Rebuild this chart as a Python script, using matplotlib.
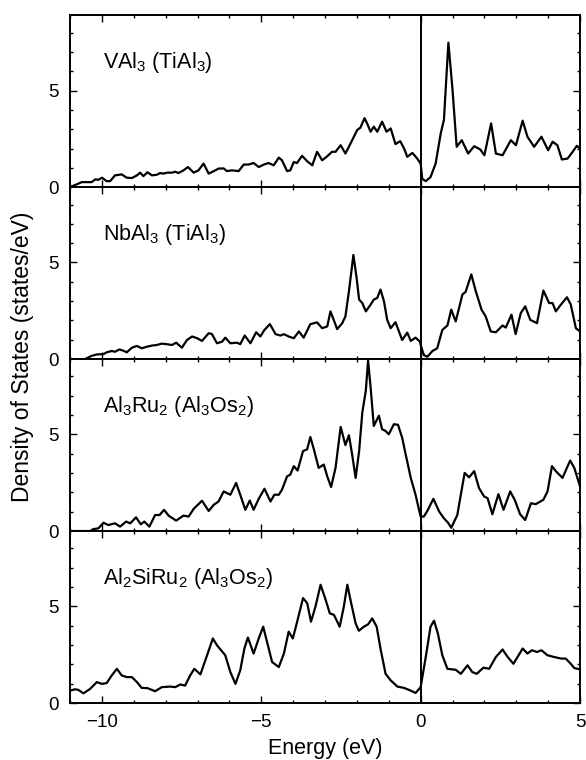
import numpy as np
import matplotlib as mpl
mpl.use('Agg')
from matplotlib import pyplot as plt
from matplotlib.ticker import MultipleLocator

plt.rcParams['font.family'] = ['Liberation Sans', 'DejaVu Sans']
plt.rcParams['mathtext.default'] = 'regular'

## ------------------------------------------------------------------
##  Data (energy in eV, DOS in states/eV)
## ------------------------------------------------------------------
val3_e = [-11, -10.63, -10.32, -10.21, -10.11, -10.0, -9.85, -9.74, -9.59, -9.38,
          -9.22, -9.06, -8.90, -8.80, -8.70, -8.57, -8.43, -8.28, -8.17, -8.07,
          -7.96, -7.80, -7.70, -7.60, -7.44, -7.30, -7.12, -6.97, -6.81, -6.65,
          -6.49, -6.34, -6.18, -6.08, -5.92, -5.71, -5.55, -5.40, -5.24, -5.08,
          -4.92, -4.77, -4.61, -4.45, -4.35, -4.19, -4.09, -3.98, -3.88, -3.72,
          -3.56, -3.40, -3.25, -3.09, -2.93, -2.78, -2.67, -2.51, -2.36, -2.20,
          -1.99, -1.89, -1.76, -1.68, -1.57, -1.47, -1.36, -1.21, -1.07, -0.94,
          -0.79, -0.64, -0.52, -0.42, -0.26, -0.13, 0.0, 0.05, 0.16, 0.31,
          0.47, 0.63, 0.73, 0.87, 1.0, 1.13, 1.29, 1.49, 1.68, 1.87,
          2.0, 2.21, 2.36, 2.57, 2.83, 2.99, 3.20, 3.35, 3.56, 3.79,
          4.0, 4.14, 4.29, 4.43, 4.61, 4.77, 4.90, 5.0]
val3_d = [0.0, 0.26, 0.26, 0.40, 0.38, 0.49, 0.31, 0.31, 0.61, 0.66,
          0.49, 0.47, 0.61, 0.75, 0.57, 0.77, 0.61, 0.64, 0.73, 0.70,
          0.75, 0.75, 0.80, 0.73, 0.87, 1.04, 0.75, 0.87, 1.22, 0.70,
          0.83, 0.96, 0.97, 0.83, 0.87, 0.83, 1.17, 1.17, 1.25, 1.04,
          1.17, 1.25, 1.13, 1.53, 1.39, 0.83, 0.87, 1.30, 1.25, 1.62,
          1.34, 1.13, 1.83, 1.39, 1.60, 1.83, 1.83, 2.17, 1.74, 2.26,
          2.96, 3.08, 3.57, 3.30, 2.87, 3.13, 2.87, 3.39, 2.87, 3.04,
          2.23, 2.38, 2.00, 1.57, 1.77, 1.53, 1.22, 0.43, 0.31, 0.52,
          1.22, 2.78, 3.48, 7.48, 5.04, 2.09, 2.43, 1.74, 2.12, 1.95,
          1.65, 3.30, 1.74, 1.65, 2.43, 2.17, 3.44, 2.61, 2.09, 2.61,
          1.91, 2.35, 2.17, 1.43, 1.48, 1.83, 2.14, 2.00]

nbal3_e = [-11, -10.53, -10.32, -10.16, -9.95, -9.85, -9.69, -9.59, -9.45, -9.32,
           -9.22, -9.06, -8.90, -8.75, -8.59, -8.43, -8.28, -8.12, -7.96, -7.80,
           -7.67, -7.49, -7.33, -7.17, -7.01, -6.86, -6.65, -6.55, -6.39, -6.23,
           -6.13, -5.97, -5.76, -5.66, -5.52, -5.34, -5.16, -5.03, -4.90, -4.73,
           -4.55, -4.40, -4.29, -4.14, -3.98, -3.82, -3.67, -3.46, -3.25, -3.09,
           -2.93, -2.83, -2.70, -2.62, -2.46, -2.36, -2.25, -2.11, -2.01, -1.93,
           -1.83, -1.72, -1.57, -1.47, -1.36, -1.26, -1.15, -1.05, -0.94, -0.79,
           -0.68, -0.58, -0.42, -0.31, -0.16, -0.02, 0.0, 0.10, 0.21, 0.37,
           0.52, 0.68, 0.84, 0.96, 1.10, 1.31, 1.41, 1.59, 1.73, 1.91,
           2.04, 2.20, 2.36, 2.57, 2.67, 2.85, 2.98, 3.14, 3.28, 3.44,
           3.65, 3.85, 4.03, 4.14, 4.24, 4.40, 4.59, 4.71, 4.87, 5.0]
nbal3_d = [0.0, 0.0, 0.17, 0.24, 0.26, 0.35, 0.42, 0.38, 0.50, 0.43,
           0.35, 0.59, 0.68, 0.56, 0.64, 0.70, 0.73, 0.80, 0.77, 0.73,
           0.85, 0.59, 0.99, 1.17, 1.08, 0.94, 1.34, 1.30, 0.82, 0.90,
           1.11, 0.82, 0.85, 0.77, 1.22, 0.82, 1.39, 1.17, 1.51, 1.81,
           1.29, 1.22, 1.29, 1.17, 1.08, 1.43, 1.11, 1.81, 1.90, 1.60,
           1.69, 2.47, 1.91, 1.55, 1.86, 2.21, 3.51, 5.39, 4.21, 3.08,
           2.90, 2.47, 2.82, 3.08, 3.17, 3.60, 2.99, 2.03, 1.60, 1.91,
           1.43, 0.99, 1.37, 0.94, 1.11, 0.90, 0.73, 0.21, 0.12, 0.42,
           0.56, 1.51, 1.74, 2.56, 1.95, 3.34, 3.48, 4.38, 3.51, 2.56,
           2.21, 1.43, 1.39, 1.74, 1.63, 2.30, 1.29, 2.38, 2.73, 2.03,
           1.86, 3.55, 2.90, 2.90, 2.47, 2.82, 3.20, 2.82, 1.60, 1.43]

al3ru2_e = [-11, -10.37, -10.27, -10.11, -9.95, -9.80, -9.59, -9.43, -9.24, -9.11,
            -8.93, -8.78, -8.67, -8.51, -8.33, -8.19, -8.05, -7.91, -7.67, -7.44,
            -7.28, -7.12, -6.86, -6.65, -6.49, -6.34, -6.18, -5.97, -5.79, -5.66,
            -5.50, -5.36, -5.24, -5.08, -4.90, -4.71, -4.59, -4.45, -4.35, -4.19,
            -4.09, -3.98, -3.86, -3.69, -3.56, -3.46, -3.35, -3.20, -3.04, -2.93,
            -2.81, -2.67, -2.51, -2.36, -2.25, -2.15, -2.04, -1.93, -1.83, -1.72,
            -1.65, -1.57, -1.47, -1.31, -1.21, -1.10, -1.00, -0.84, -0.71, -0.58,
            -0.47, -0.31, -0.16, 0.0, 0.10, 0.21, 0.40, 0.58, 0.73, 0.86,
            0.96, 1.15, 1.26, 1.38, 1.52, 1.68, 1.83, 1.99, 2.10, 2.25,
            2.44, 2.60, 2.81, 2.95, 3.12, 3.28, 3.46, 3.61, 3.85, 3.98,
            4.12, 4.24, 4.45, 4.69, 4.82, 5.0]
al3ru2_d = [0.0, 0.0, 0.10, 0.14, 0.43, 0.31, 0.40, 0.23, 0.49, 0.40,
            0.71, 0.35, 0.49, 0.23, 0.83, 0.83, 1.10, 0.80, 0.54, 0.80,
            0.75, 1.15, 1.57, 1.04, 1.36, 1.53, 2.05, 1.88, 2.49, 1.88,
            1.10, 1.58, 1.10, 1.67, 2.19, 1.53, 1.88, 1.88, 2.14, 2.83,
            2.92, 3.36, 3.13, 4.14, 4.23, 4.87, 4.23, 3.27, 3.44, 2.83,
            2.28, 3.27, 5.39, 4.45, 4.96, 3.97, 2.75, 4.14, 6.14, 7.27,
            8.83, 7.44, 5.44, 5.97, 5.27, 5.18, 5.01, 5.53, 5.50, 4.83,
            3.97, 2.75, 1.88, 0.75, 0.75, 1.04, 1.67, 1.01, 0.66, 0.43,
            0.17, 0.83, 1.88, 3.01, 2.78, 3.10, 2.23, 1.79, 1.70, 0.87,
            1.91, 1.10, 2.05, 1.62, 0.87, 0.57, 1.44, 1.39, 1.62, 2.05,
            3.36, 3.10, 2.75, 3.65, 3.27, 2.31]

al2siru2_e = [-11, -10.84, -10.74, -10.58, -10.37, -10.16, -10.0, -9.85, -9.69, -9.53,
              -9.38, -9.22, -9.06, -8.90, -8.75, -8.57, -8.33, -8.12, -7.86, -7.70,
              -7.54, -7.39, -7.23, -7.10, -6.91, -6.70, -6.52, -6.39, -6.26, -6.13,
              -5.97, -5.81, -5.66, -5.53, -5.42, -5.24, -5.08, -4.94, -4.82, -4.66,
              -4.45, -4.29, -4.14, -4.01, -3.86, -3.69, -3.56, -3.44, -3.30, -3.14,
              -2.98, -2.85, -2.72, -2.54, -2.41, -2.30, -2.18, -2.04, -1.94, -1.78,
              -1.65, -1.52, -1.38, -1.25, -1.10, -0.94, -0.73, -0.52, -0.31, -0.16,
              0.0, 0.16, 0.31, 0.42, 0.54, 0.68, 0.84, 1.10, 1.26, 1.47,
              1.62, 1.76, 1.97, 2.15, 2.36, 2.57, 2.73, 2.91, 3.04, 3.20,
              3.35, 3.49, 3.65, 3.79, 3.98, 4.19, 4.40, 4.55, 4.71, 4.82, 5.0]
al2siru2_d = [0.64, 0.71, 0.68, 0.50, 0.73, 1.08, 0.99, 1.03, 1.43, 1.77,
              1.43, 1.34, 1.34, 1.08, 0.78, 0.77, 0.61, 0.82, 0.85, 0.82,
              0.96, 0.90, 1.43, 1.77, 1.48, 2.47, 3.34, 2.99, 2.73, 2.47,
              1.60, 0.99, 1.69, 2.82, 3.39, 2.56, 3.34, 3.95, 3.17, 2.12,
              1.86, 2.56, 3.69, 3.34, 4.30, 5.43, 5.17, 4.21, 4.99, 6.12,
              5.34, 4.64, 4.56, 3.95, 4.99, 6.12, 5.17, 4.12, 3.74, 3.95,
              4.07, 4.38, 3.95, 2.73, 1.51, 1.17, 0.85, 0.78, 0.64, 0.52,
              0.82, 2.38, 3.95, 4.26, 3.60, 2.47, 1.77, 1.72, 1.51, 1.95,
              1.60, 1.51, 1.83, 1.77, 2.38, 2.77, 2.38, 2.03, 2.38, 2.82,
              2.56, 2.73, 2.64, 2.73, 2.47, 2.38, 2.30, 2.30, 2.03, 1.81, 1.74]

labels = [r'VAl$_3$ (TiAl$_3$)', r'NbAl$_3$ (TiAl$_3$)',
          r'Al$_3$Ru$_2$ (Al$_3$Os$_2$)', r'Al$_2$SiRu$_2$ (Al$_3$Os$_2$)']
series = [(val3_e, val3_d), (nbal3_e, nbal3_d),
          (al3ru2_e, al3ru2_d), (al2siru2_e, al2siru2_d)]

fig, axes = plt.subplots(4, 1, figsize=(5.86, 7.6), dpi=100, sharex=True)
fig.subplots_adjust(left=0.1195, right=0.9898, top=0.980, bottom=0.075, hspace=0)

for ax, lab, (e, d) in zip(axes, labels, series):
    ax.plot(e, d, color='black', lw=1.6, solid_joinstyle='round')
    ax.axvline(0, color='black', lw=1.4)
    ax.set_xlim(-11, 5)
    ax.set_ylim(0, 8.9)
    ax.xaxis.set_major_locator(MultipleLocator(5))
    ax.xaxis.set_minor_locator(MultipleLocator(1))
    ax.yaxis.set_major_locator(MultipleLocator(5))
    ax.yaxis.set_minor_locator(MultipleLocator(1))
    ax.tick_params(which='both', direction='in', top=True, right=True,
                   labelsize=13.5, width=1.0, pad=8)
    ax.tick_params(which='major', length=5)
    ax.tick_params(which='minor', length=2.5)
    for sp in ax.spines.values():
        sp.set_linewidth(1.4)
    ax.text(0.064, 0.725, lab, transform=ax.transAxes, fontsize=15.5,
            ha='left', va='center')

axes[-1].set_xlabel('Energy (eV)', fontsize=15.5, labelpad=5)
fig.text(0.039, 0.53, 'Density of States (states/eV)', rotation=90,
         fontsize=16.5, ha='center', va='center')

fig.savefig('out.png', dpi=100)
